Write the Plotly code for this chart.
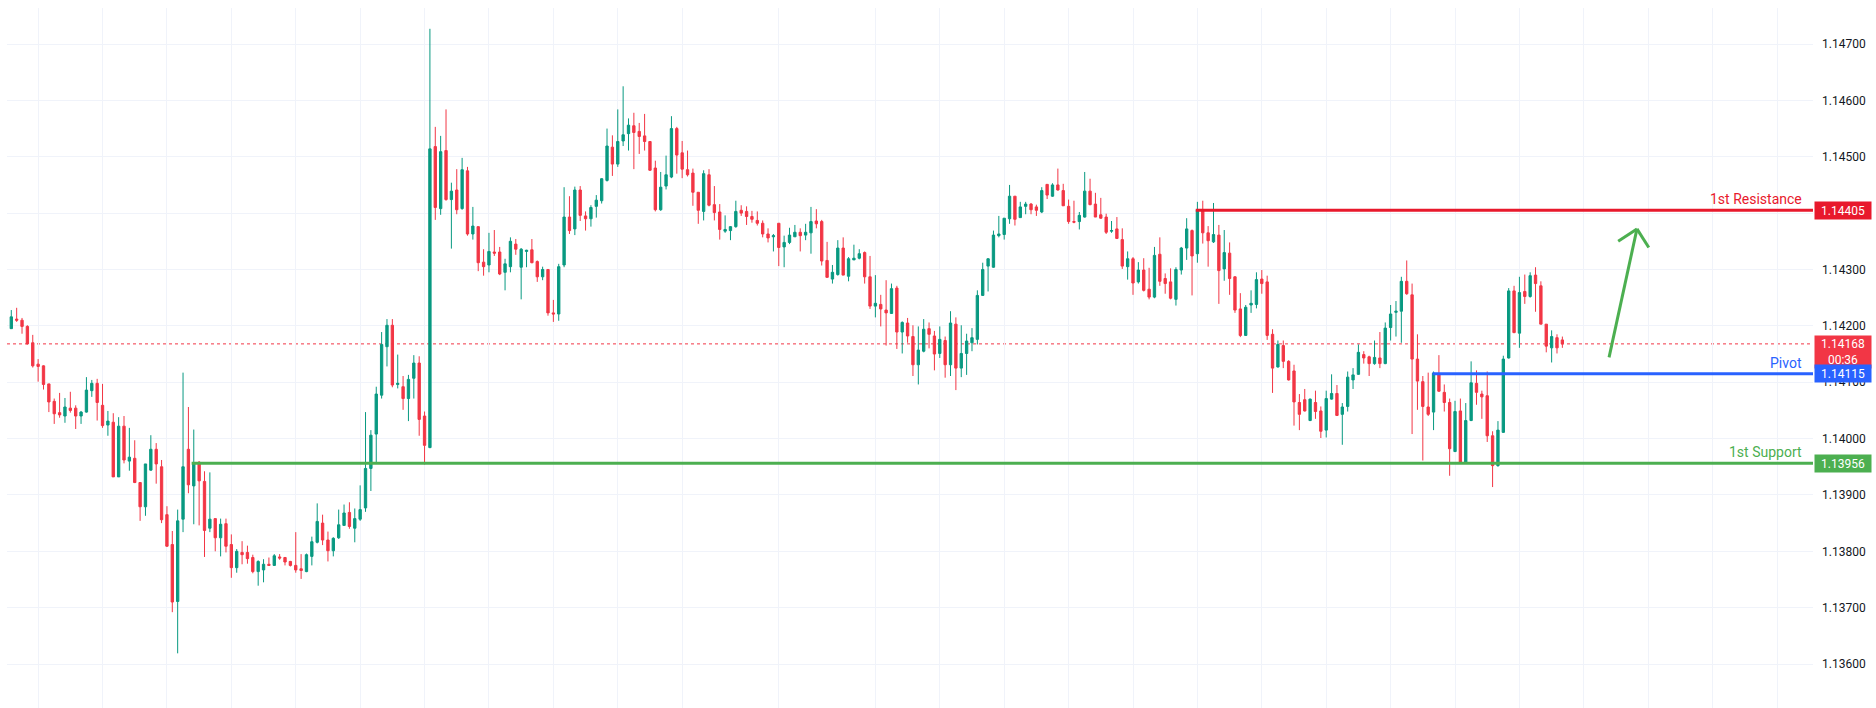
import plotly.graph_objects as go

# ---------------- data (EURUSD-like 5 min candles) ----------------
opens = [
1.14195,1.14212,1.14210,1.14199,1.14170,1.14132,1.14129,1.14097,1.14066,1.14046,
1.14040,1.14054,1.14054,1.14040,1.14047,1.14085,1.14098,1.14059,1.14024,1.14029,
1.13932,1.14022,1.13960,1.13965,1.13922,1.13879,1.13944,1.13981,1.13950,1.13865,
1.13812,1.13711,1.13857,1.13981,1.13916,1.13958,1.13924,1.13841,1.13858,1.13824,
1.13849,1.13812,1.13771,1.13798,1.13798,1.13789,1.13764,1.13767,1.13777,1.13775,
1.13790,1.13789,1.13782,1.13775,1.13769,1.13764,1.13791,1.13816,1.13850,1.13820,
1.13801,1.13824,1.13846,1.13869,1.13841,1.13857,1.13877,1.13947,1.14008,1.14077,
1.14163,1.14201,1.14096,1.14092,1.14071,1.14107,1.14134,1.14040,1.13984,1.14518,
1.14408,1.14511,1.14424,1.14441,1.14408,1.14475,1.14363,1.14376,1.14313,1.14308,
1.14331,1.14331,1.14295,1.14305,1.14345,1.14304,1.14332,1.14335,1.14314,1.14287,
1.14300,1.14223,1.14221,1.14308,1.14393,1.14372,1.14441,1.14395,1.14390,1.14412,
1.14422,1.14458,1.14517,1.14487,1.14528,1.14541,1.14555,1.14545,1.14537,1.14527,
1.14480,1.14406,1.14448,1.14464,1.14550,1.14507,1.14477,1.14471,1.14437,1.14403,
1.14468,1.14415,1.14402,1.14368,1.14369,1.14376,1.14405,1.14403,1.14394,1.14387,
1.14382,1.14363,1.14358,1.14382,1.14340,1.14348,1.14358,1.14366,1.14361,1.14365,
1.14386,1.14385,1.14316,1.14283,1.14291,1.14338,1.14288,1.14317,1.14320,1.14330,
1.14287,1.14235,1.14238,1.14228,1.14222,1.14267,1.14189,1.14205,1.14181,1.14131,
1.14155,1.14195,1.14182,1.14151,1.14174,1.14131,1.14203,1.14125,1.14151,1.14170,
1.14176,1.14254,1.14306,1.14304,1.14360,1.14362,1.14390,1.14430,1.14392,1.14412,
1.14416,1.14411,1.14402,1.14451,1.14430,1.14450,1.14440,1.14412,1.14385,1.14385,
1.14393,1.14439,1.14416,1.14397,1.14393,1.14368,1.14372,1.14353,1.14305,1.14319,
1.14278,1.14299,1.14265,1.14251,1.14327,1.14284,1.14278,1.14247,1.14299,1.14338,
1.14369,1.14328,1.14405,1.14365,1.14349,1.14361,1.14301,1.14329,1.14287,1.14230,
1.14183,1.14237,1.14238,1.14283,1.14278,1.14185,1.14127,1.14165,1.14137,1.14120,
1.14064,1.14069,1.14032,1.14064,1.14049,1.14015,1.14070,1.14080,1.14043,1.14057,
1.14104,1.14114,1.14149,1.14145,1.14133,1.14143,1.14133,1.14197,1.14224,1.14226,
1.14279,1.14255,1.14141,1.14101,1.14056,1.14047,1.14113,1.14082,1.14064,1.13977,
1.14049,1.13958,1.14032,1.14098,1.14079,1.14076,1.14005,1.13952,1.14011,1.14143,
1.14262,1.14187,1.14261,1.14252,1.14290,1.14271,1.14203,1.14161,1.14179,1.14175]

highs = [
1.14228,1.14232,1.14214,1.14201,1.14184,1.14141,1.14130,1.14097,1.14071,1.14081,
1.14072,1.14083,1.14059,1.14049,1.14109,1.14104,1.14106,1.14097,1.14049,1.14045,
1.14038,1.14040,1.14019,1.13997,1.13922,1.13955,1.14006,1.13992,1.13962,1.13880,
1.13836,1.13874,1.14117,1.14056,1.14016,1.13960,1.13942,1.13940,1.13858,1.13858,
1.13858,1.13830,1.13804,1.13818,1.13810,1.13794,1.13784,1.13786,1.13789,1.13795,
1.13795,1.13790,1.13783,1.13834,1.13795,1.13796,1.13826,1.13885,1.13865,1.13835,
1.13825,1.13874,1.13883,1.13887,1.13876,1.13917,1.14047,1.14015,1.14092,1.14189,
1.14212,1.14212,1.14149,1.14111,1.14113,1.14148,1.14146,1.14048,1.14727,1.14553,
1.14537,1.14584,1.14454,1.14478,1.14498,1.14482,1.14411,1.14376,1.14336,1.14365,
1.14370,1.14340,1.14319,1.14357,1.14354,1.14338,1.14335,1.14354,1.14316,1.14305,
1.14300,1.14246,1.14310,1.14446,1.14430,1.14447,1.14448,1.14403,1.14414,1.14432,
1.14462,1.14550,1.14538,1.14584,1.14625,1.14568,1.14578,1.14560,1.14576,1.14527,
1.14493,1.14473,1.14502,1.14572,1.14553,1.14528,1.14511,1.14479,1.14437,1.14476,
1.14478,1.14448,1.14416,1.14396,1.14377,1.14422,1.14414,1.14412,1.14404,1.14403,
1.14387,1.14373,1.14363,1.14382,1.14360,1.14374,1.14379,1.14373,1.14381,1.14411,
1.14407,1.14388,1.14349,1.14308,1.14352,1.14357,1.14322,1.14344,1.14336,1.14332,
1.14324,1.14290,1.14255,1.14281,1.14275,1.14271,1.14208,1.14214,1.14201,1.14199,
1.14212,1.14206,1.14191,1.14199,1.14181,1.14226,1.14215,1.14201,1.14186,1.14196,
1.14263,1.14312,1.14320,1.14369,1.14395,1.14391,1.14450,1.14430,1.14420,1.14420,
1.14418,1.14415,1.14446,1.14451,1.14453,1.14479,1.14452,1.14424,1.14422,1.14402,
1.14473,1.14461,1.14436,1.14427,1.14399,1.14386,1.14393,1.14373,1.14332,1.14322,
1.14313,1.14320,1.14303,1.14340,1.14357,1.14293,1.14302,1.14304,1.14340,1.14391,
1.14371,1.14420,1.14422,1.14377,1.14418,1.14379,1.14370,1.14348,1.14288,1.14258,
1.14237,1.14263,1.14295,1.14299,1.14289,1.14194,1.14174,1.14174,1.14139,1.14131,
1.14079,1.14088,1.14071,1.14085,1.14057,1.14085,1.14114,1.14095,1.14063,1.14119,
1.14125,1.14167,1.14155,1.14147,1.14174,1.14189,1.14206,1.14237,1.14244,1.14287,
1.14316,1.14275,1.14185,1.14111,1.14117,1.14119,1.14148,1.14096,1.14071,1.14067,
1.14071,1.14063,1.14137,1.14121,1.14085,1.14119,1.14013,1.14031,1.14147,1.14267,
1.14271,1.14287,1.14291,1.14295,1.14304,1.14279,1.14203,1.14192,1.14185,1.14181]

lows = [
1.14195,1.14207,1.14186,1.14167,1.14126,1.14101,1.14087,1.14047,1.14026,1.14037,
1.14028,1.14046,1.14017,1.14026,1.14046,1.14074,1.14032,1.14019,1.14005,1.13932,
1.13932,1.13956,1.13943,1.13921,1.13854,1.13863,1.13943,1.13920,1.13850,1.13808,
1.13692,1.13619,1.13834,1.13903,1.13848,1.13846,1.13790,1.13834,1.13800,1.13791,
1.13798,1.13753,1.13762,1.13777,1.13778,1.13761,1.13739,1.13745,1.13775,1.13774,
1.13785,1.13775,1.13773,1.13762,1.13751,1.13763,1.13775,1.13814,1.13811,1.13782,
1.13791,1.13822,1.13846,1.13840,1.13816,1.13854,1.13870,1.13907,1.13958,1.14071,
1.14128,1.14091,1.14089,1.14051,1.14031,1.14071,1.14005,1.13954,1.13983,1.14388,
1.14397,1.14422,1.14337,1.14398,1.14406,1.14360,1.14353,1.14297,1.14289,1.14295,
1.14324,1.14290,1.14263,1.14295,1.14326,1.14247,1.14304,1.14311,1.14278,1.14281,
1.14218,1.14207,1.14209,1.14304,1.14363,1.14361,1.14386,1.14369,1.14376,1.14392,
1.14417,1.14456,1.14466,1.14482,1.14519,1.14511,1.14478,1.14505,1.14511,1.14475,
1.14403,1.14404,1.14442,1.14462,1.14470,1.14462,1.14465,1.14413,1.14381,1.14387,
1.14412,1.14387,1.14353,1.14365,1.14352,1.14374,1.14395,1.14379,1.14383,1.14378,
1.14357,1.14348,1.14332,1.14306,1.14304,1.14345,1.14358,1.14332,1.14352,1.14328,
1.14373,1.14307,1.14286,1.14275,1.14289,1.14290,1.14279,1.14317,1.14318,1.14275,
1.14230,1.14215,1.14199,1.14165,1.14221,1.14159,1.14151,1.14170,1.14111,1.14096,
1.14153,1.14160,1.14121,1.14143,1.14108,1.14111,1.14086,1.14109,1.14113,1.14155,
1.14167,1.14253,1.14261,1.14303,1.14357,1.14353,1.14381,1.14378,1.14392,1.14398,
1.14398,1.14395,1.14400,1.14425,1.14429,1.14440,1.14413,1.14381,1.14382,1.14371,
1.14392,1.14414,1.14393,1.14390,1.14363,1.14365,1.14354,1.14301,1.14282,1.14255,
1.14275,1.14261,1.14247,1.14249,1.14271,1.14257,1.14247,1.14236,1.14291,1.14317,
1.14254,1.14312,1.14346,1.14305,1.14347,1.14239,1.14280,1.14255,1.14223,1.14180,
1.14182,1.14223,1.14231,1.14257,1.14175,1.14081,1.14126,1.14125,1.14103,1.14023,
1.14015,1.14048,1.14031,1.14035,1.14001,1.14002,1.14069,1.14040,1.13989,1.14048,
1.14088,1.14113,1.14133,1.14111,1.14131,1.14125,1.14132,1.14174,1.14181,1.14170,
1.14255,1.14008,1.14051,1.13961,1.14040,1.14015,1.14083,1.14048,1.13934,1.13976,
1.13957,1.13956,1.14031,1.14060,1.14035,1.13994,1.13914,1.13950,1.14010,1.14142,
1.14187,1.14161,1.14239,1.14250,1.14225,1.14203,1.14153,1.14135,1.14151,1.14161]

closes = [
1.14216,1.14210,1.14199,1.14168,1.14129,1.14128,1.14096,1.14065,1.14044,1.14042,
1.14056,1.14050,1.14040,1.14047,1.14086,1.14098,1.14064,1.14023,1.14031,1.13932,
1.14022,1.13962,1.13967,1.13922,1.13879,1.13955,1.13981,1.13955,1.13856,1.13809,
1.13710,1.13854,1.13950,1.13918,1.13957,1.13925,1.13837,1.13857,1.13824,1.13848,
1.13809,1.13771,1.13800,1.13794,1.13787,1.13764,1.13782,1.13777,1.13775,1.13792,
1.13788,1.13781,1.13775,1.13767,1.13766,1.13794,1.13817,1.13853,1.13820,1.13801,
1.13823,1.13847,1.13868,1.13844,1.13858,1.13874,1.13947,1.14006,1.14079,1.14167,
1.14201,1.14095,1.14098,1.14071,1.14105,1.14134,1.14034,1.13988,1.14514,1.14410,
1.14509,1.14424,1.14439,1.14406,1.14477,1.14363,1.14377,1.14312,1.14305,1.14332,
1.14329,1.14292,1.14310,1.14350,1.14336,1.14336,1.14334,1.14312,1.14287,1.14300,
1.14223,1.14221,1.14305,1.14393,1.14369,1.14441,1.14396,1.14390,1.14410,1.14423,
1.14461,1.14519,1.14487,1.14527,1.14539,1.14556,1.14543,1.14536,1.14527,1.14476,
1.14406,1.14446,1.14468,1.14550,1.14503,1.14478,1.14468,1.14437,1.14405,1.14470,
1.14414,1.14401,1.14371,1.14371,1.14376,1.14403,1.14400,1.14394,1.14389,1.14382,
1.14363,1.14356,1.14360,1.14339,1.14348,1.14361,1.14366,1.14360,1.14366,1.14385,
1.14381,1.14315,1.14286,1.14295,1.14338,1.14290,1.14319,1.14320,1.14328,1.14287,
1.14235,1.14240,1.14230,1.14223,1.14266,1.14189,1.14206,1.14182,1.14131,1.14157,
1.14194,1.14185,1.14150,1.14176,1.14131,1.14205,1.14125,1.14151,1.14173,1.14179,
1.14254,1.14300,1.14319,1.14361,1.14363,1.14391,1.14430,1.14389,1.14411,1.14416,
1.14406,1.14405,1.14440,1.14432,1.14450,1.14441,1.14413,1.14385,1.14384,1.14396,
1.14439,1.14415,1.14393,1.14391,1.14366,1.14369,1.14355,1.14306,1.14319,1.14276,
1.14299,1.14263,1.14251,1.14325,1.14279,1.14275,1.14249,1.14300,1.14338,1.14372,
1.14324,1.14406,1.14365,1.14351,1.14362,1.14298,1.14330,1.14284,1.14228,1.14183,
1.14233,1.14240,1.14282,1.14275,1.14183,1.14125,1.14167,1.14137,1.14104,1.14065,
1.14043,1.14049,1.14070,1.14048,1.14013,1.14071,1.14080,1.14041,1.14056,1.14109,
1.14113,1.14153,1.14143,1.14133,1.14144,1.14133,1.14196,1.14221,1.14226,1.14279,
1.14257,1.14141,1.14102,1.14057,1.14043,1.14116,1.14084,1.14064,1.13982,1.14048,
1.13958,1.14032,1.14099,1.14082,1.14074,1.14005,1.13952,1.14015,1.14141,1.14262,
1.14188,1.14259,1.14252,1.14289,1.14275,1.14203,1.14164,1.14181,1.14161,1.14168]

bars = list(range(1, len(opens) + 1))

# price levels
resistance = 1.14405
pivot = 1.14115
support = 1.13956
last_price = 1.14168
countdown = "00:36"

# first bar of each level line
resistance_start = 221.7
pivot_start = 265.8
support_start = 34.6

# hourly grid positions (bar index) and price ticks
grid_bars = [6, 18, 30, 42, 54, 66, 78, 90, 102, 114, 126, 144, 162, 174, 186, 198,
             210, 222, 234, 246, 258, 270, 282, 294, 306, 318, 330]
price_ticks = [1.136, 1.137, 1.138, 1.139, 1.140, 1.141, 1.142, 1.143, 1.144, 1.145, 1.146, 1.147]

# hand-drawn arrow (bar index, price)
arrow_x = [298.7, 303.9]
arrow_y = [1.14144, 1.14372]
arrow_head_left = [300.4, 1.14350]
arrow_head_right = [306.1, 1.14339]

X_RANGE = [0.2, 336.7]
Y_RANGE = [1.135220, 1.147639]

UP = "#089981"
DOWN = "#f23645"
RES_C = "#e8192c"
PIV_C = "#2962ff"
SUP_C = "#4caf50"
GRID = "#f0f3fa"
FONT = "Roboto"

fig = go.Figure()
fig.add_trace(go.Candlestick(
    x=bars, open=opens, high=highs, low=lows, close=closes,
    increasing=dict(line=dict(color=UP, width=1), fillcolor=UP),
    decreasing=dict(line=dict(color=DOWN, width=1), fillcolor=DOWN),
    whiskerwidth=0, showlegend=False, hoverinfo="skip",
))

shapes = []
# current price dotted line
shapes.append(dict(type="line", xref="x", yref="y", x0=X_RANGE[0], x1=X_RANGE[1],
                   y0=last_price, y1=last_price, line=dict(color=DOWN, width=1, dash="dot"), layer="below"))
# level lines
for start, lvl, col in [(resistance_start, resistance, RES_C),
                        (pivot_start, pivot, PIV_C),
                        (support_start, support, SUP_C)]:
    shapes.append(dict(type="line", xref="x", yref="y", x0=start, x1=X_RANGE[1],
                       y0=lvl, y1=lvl, line=dict(color=col, width=3), layer="above"))
# arrow
shapes.append(dict(type="line", xref="x", yref="y", x0=arrow_x[0], y0=arrow_y[0],
                   x1=arrow_x[1], y1=arrow_y[1], line=dict(color=SUP_C, width=3)))
shapes.append(dict(type="line", xref="x", yref="y", x0=arrow_head_left[0], y0=arrow_head_left[1],
                   x1=arrow_x[1], y1=arrow_y[1], line=dict(color=SUP_C, width=3)))
shapes.append(dict(type="line", xref="x", yref="y", x0=arrow_x[1], y0=arrow_y[1],
                   x1=arrow_head_right[0], y1=arrow_head_right[1], line=dict(color=SUP_C, width=3)))

annotations = []
# level text labels
for txt, lvl, col in [("1st Resistance", resistance, RES_C),
                      ("Pivot", pivot, PIV_C),
                      ("1st Support", support, SUP_C)]:
    annotations.append(dict(text=txt, xref="paper", yref="y", x=1, y=lvl,
                            xanchor="right", yanchor="bottom", xshift=-9, yshift=1,
                            showarrow=False, font=dict(family=FONT, size=14, color=col)))

# price boxes on the axis
def price_box(text, y, color, height, yanchor="middle", yshift=0):
    return dict(text=text, xref="paper", yref="y", x=1, y=y, xanchor="left",
                yanchor=yanchor, yshift=yshift, xshift=1,
                showarrow=False, bgcolor=color, borderpad=2, width=52, height=height,
                align="center", valign="middle",
                font=dict(family=FONT, size=12, color="white"))

annotations.append(price_box(f"{resistance:.5f}", resistance, RES_C, 13))
annotations.append(price_box(f"{last_price:.5f}<br>{countdown}", last_price, DOWN, 28,
                             yanchor="top", yshift=9))
annotations.append(price_box(f"{pivot:.5f}", pivot, PIV_C, 13))
annotations.append(price_box(f"{support:.5f}", support, SUP_C, 13))

fig.update_layout(
    width=1876, height=708,
    margin=dict(l=7, r=63, t=8, b=0),
    paper_bgcolor="white", plot_bgcolor="white",
    font=dict(family=FONT, size=12, color="#131722"),
    boxgap=0.38,
    shapes=shapes, annotations=annotations,
    xaxis=dict(range=X_RANGE, rangeslider=dict(visible=False), showticklabels=False,
               tickmode="array", tickvals=grid_bars, showgrid=True, gridcolor=GRID,
               gridwidth=1, zeroline=False, showline=False, ticks=""),
    yaxis=dict(range=Y_RANGE, side="right", tickmode="array", tickvals=price_ticks,
               ticktext=[f"{v:.5f}" for v in price_ticks], showgrid=True, gridcolor=GRID,
               gridwidth=1, zeroline=False, showline=False, ticks="",
               ticklabelstandoff=8, tickfont=dict(family=FONT, size=12, color="#131722")),
    hovermode=False,
)

fig.write_html("out.html")
